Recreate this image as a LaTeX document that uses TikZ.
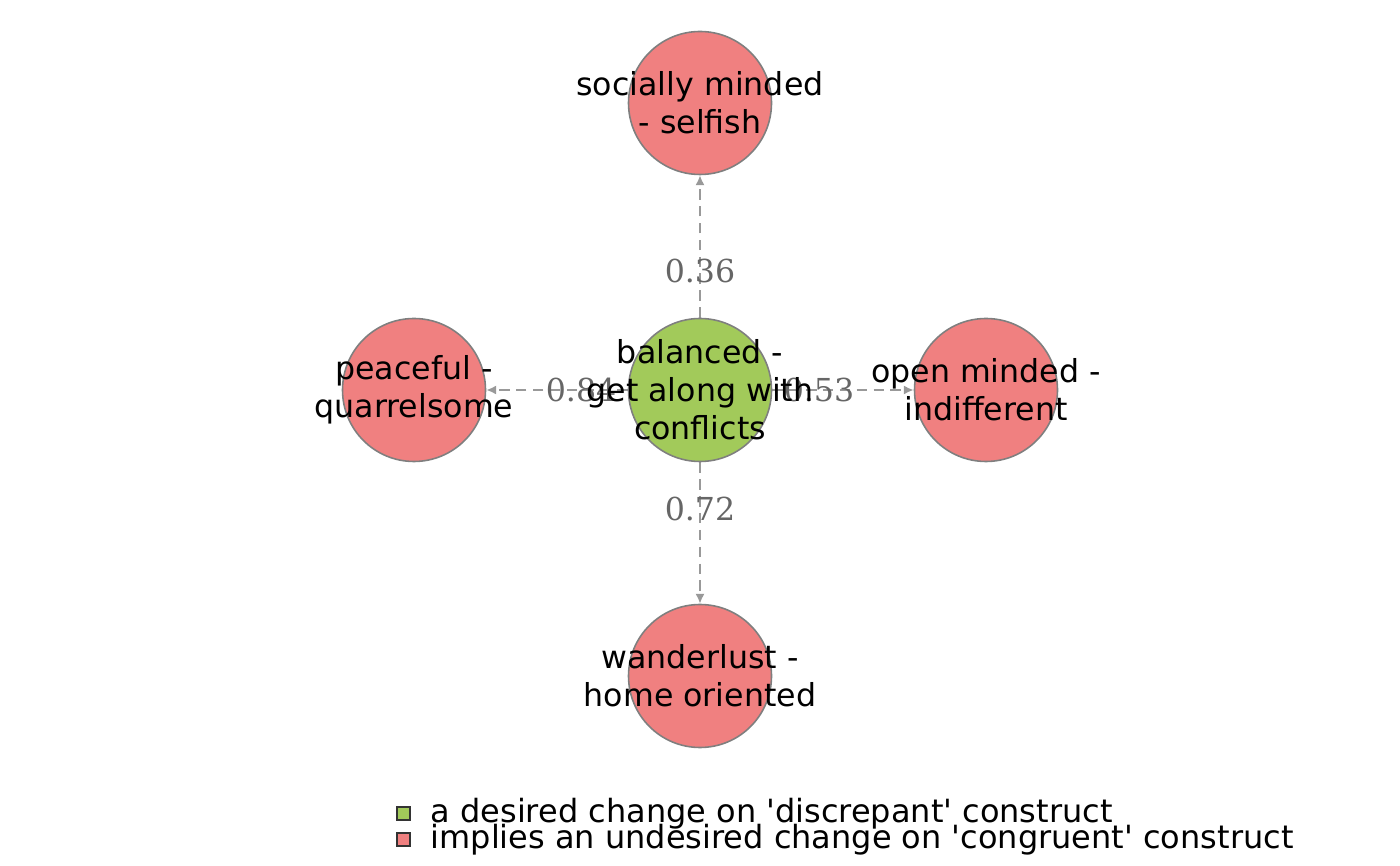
\documentclass[tikz,border=0pt]{standalone}
\usepackage{fontspec}
\setmainfont{DejaVu Sans}
\newfontfamily\weightfont{DejaVu Serif}
\usepackage{tikz}
\usetikzlibrary{arrows.meta,backgrounds}

\definecolor{discrepant}{HTML}{A2CA5A}
\definecolor{congruent}{HTML}{F08080}
\definecolor{edgegray}{HTML}{999999}
\definecolor{labelgray}{HTML}{666666}
\definecolor{rimgray}{HTML}{7F7F7F}

\tikzset{
  construct/.style={circle, draw=rimgray, line width=0.45pt, minimum size=1.43cm, inner sep=0pt},
  nodetext/.style={align=center, inner sep=0pt, font=\fontsize{9}{10.8}\selectfont},
  implication/.style={edgegray, line width=0.75pt, dash pattern=on 3pt off 1.8pt, -{Latex[length=2.8pt,width=2.6pt]}},
  weight/.style={pos=0.33, text=labelgray, inner sep=0pt, font=\weightfont\fontsize{9}{10.8}\selectfont},
  legendbox/.style={draw=black!80, line width=0.5pt, minimum size=0.13cm, inner sep=0pt},
  legendtext/.style={anchor=west, inner sep=0pt, font=\fontsize{9.1}{10.9}\selectfont}
}

\begin{document}
\begin{tikzpicture}
    \useasboundingbox (0,0) rectangle (14,8.66);

    % Discrepant construct
    \node[construct, fill=discrepant, label={[nodetext]center:balanced -\\get along with\\conflicts}] (balanced) at (7.00,4.76) {};

    % Congruent constructs
    \node[construct, fill=congruent, label={[nodetext]center:socially minded\\- selfish}] (social) at (7.00,7.63) {};
    \node[construct, fill=congruent, label={[nodetext]center:peaceful -\\quarrelsome}] (peace) at (4.14,4.76) {};
    \node[construct, fill=congruent, label={[nodetext]center:open minded -\\indifferent}] (open) at (9.86,4.76) {};
    \node[construct, fill=congruent, label={[nodetext]center:wanderlust -\\home oriented}] (wander) at (7.00,1.90) {};

    % Implications
    \begin{scope}[on background layer]
      \draw[implication] (balanced) -- (social) node[weight] {0.36};
      \draw[implication] (balanced) -- (wander) node[weight] {0.72};
      \draw[implication] (balanced) -- (peace) node[weight] {0.84};
      \draw[implication] (balanced) -- (open) node[weight] {0.53};
    \end{scope}

    % Legend
    \node[legendbox, fill=discrepant] (keyd) at (4.035,0.525) {};
    \node[legendbox, fill=congruent] (keyc) at (4.035,0.265) {};
    \node[legendtext] at (4.30,0.525) {a desired change on \textquotesingle discrepant\textquotesingle\ construct};
    \node[legendtext] at (4.30,0.265) {implies an undesired change on \textquotesingle congruent\textquotesingle\ construct};
\end{tikzpicture}
\end{document}
